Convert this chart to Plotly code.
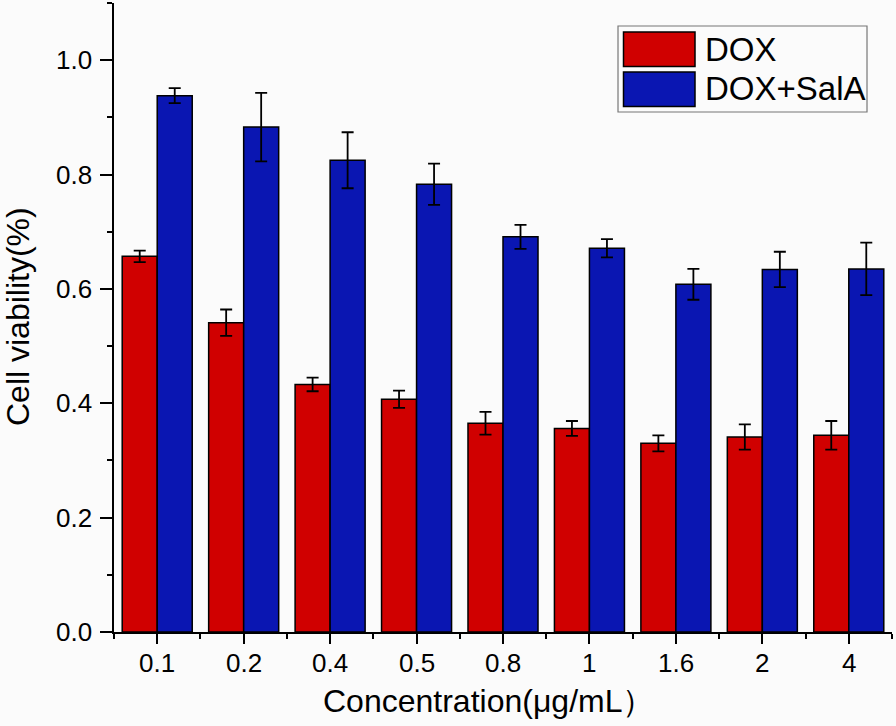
import plotly.graph_objects as go

concentrations = ["0.1", "0.2", "0.4", "0.5", "0.8", "1", "1.6", "2", "4"]
dox = [0.657, 0.541, 0.433, 0.407, 0.365, 0.356, 0.330, 0.341, 0.344]
dox_err = [0.010, 0.023, 0.012, 0.015, 0.020, 0.013, 0.014, 0.022, 0.025]
dox_sala = [0.938, 0.883, 0.825, 0.783, 0.691, 0.671, 0.608, 0.634, 0.635]
dox_sala_err = [0.013, 0.060, 0.049, 0.036, 0.021, 0.016, 0.027, 0.031, 0.046]
series_names = ["DOX", "DOX+SalA"]
y_ticks = [0.0, 0.2, 0.4, 0.6, 0.8, 1.0]
y_ticklabels = ["0.0", "0.2", "0.4", "0.6", "0.8", "1.0"]
x_title = "Concentration(μg/mL）"
y_title = "Cell viability(%)"

RED = "#D00000"
BLUE = "#0A16B2"
FONT = "Arial, Liberation Sans, sans-serif"

W, H = 896, 726
L, R, T, B = 114, 4, 3, 94
pw, ph = W - L - R, H - T - B

def px(x):
    return (x - L) / pw

def py(y):
    return (H - B - y) / ph

xpos = list(range(len(concentrations)))

fig = go.Figure()
for name, vals, errs, col in [(series_names[0], dox, dox_err, RED),
                              (series_names[1], dox_sala, dox_sala_err, BLUE)]:
    fig.add_trace(go.Bar(
        name=name, x=xpos, y=vals,
        marker=dict(color=col, line=dict(color="black", width=1.5)),
        error_y=dict(type="data", array=errs, visible=True,
                     color="black", thickness=1.8, width=6),
        showlegend=False,
    ))

# custom legend (large swatches like the original)
shapes = [
    dict(type="rect", xref="paper", yref="paper",
         x0=px(618), x1=px(867), y0=py(112), y1=py(26),
         line=dict(color="#777777", width=1.2), fillcolor="rgba(0,0,0,0)"),
    dict(type="rect", xref="paper", yref="paper",
         x0=px(623.5), x1=px(695), y0=py(66.5), y1=py(32),
         line=dict(color="black", width=1.5), fillcolor=RED),
    dict(type="rect", xref="paper", yref="paper",
         x0=px(623.5), x1=px(695), y0=py(106.5), y1=py(72),
         line=dict(color="black", width=1.5), fillcolor=BLUE),
]
annotations = [
    dict(text=series_names[0], xref="paper", yref="paper", x=px(703), y=py(49),
         xanchor="left", yanchor="middle", showarrow=False,
         font=dict(family=FONT, size=33, color="black")),
    dict(text=series_names[1], xref="paper", yref="paper", x=px(703), y=py(89),
         xanchor="left", yanchor="middle", showarrow=False,
         font=dict(family=FONT, size=33, color="black")),
    # axis titles
    dict(text=x_title, xref="paper", yref="paper", x=px(488), y=py(701),
         xanchor="center", yanchor="middle", showarrow=False,
         font=dict(family=FONT, size=32, color="black")),
    dict(text=y_title, xref="paper", yref="paper", x=px(18), y=py(317),
         xanchor="center", yanchor="middle", showarrow=False, textangle=-90,
         font=dict(family=FONT, size=32, color="black")),
]
# tick labels placed at the axis' own data positions
for xv, lab in zip(xpos, concentrations):
    annotations.append(dict(text=lab, xref="x", yref="paper", x=xv, y=py(663),
                            xanchor="center", yanchor="middle", showarrow=False,
                            font=dict(family=FONT, size=26, color="black")))
for yv, lab in zip(y_ticks, y_ticklabels):
    annotations.append(dict(text=lab, xref="paper", yref="y", x=px(94), y=yv,
                            xanchor="right", yanchor="middle", showarrow=False,
                            font=dict(family=FONT, size=26, color="black")))

fig.update_layout(
    width=W, height=H,
    margin=dict(l=L, r=R, t=T, b=B, autoexpand=False),
    paper_bgcolor="#FBFBFB", plot_bgcolor="#FBFBFB",
    barmode="group", bargap=0.19, bargroupgap=0.0,
    font=dict(family=FONT, color="black"),
    shapes=shapes, annotations=annotations,
    xaxis=dict(
        automargin=False,
        range=[-0.5, len(concentrations) - 0.5],
        tickmode="array", tickvals=xpos, ticktext=concentrations,
        showticklabels=False,
        ticks="outside", ticklen=10, tickwidth=1.8, tickcolor="black",
        minor=dict(tickmode="linear", tick0=-0.5, dtick=1, ticks="outside",
                   ticklen=5, tickwidth=1.8, tickcolor="black"),
        showline=True, linecolor="black", linewidth=2,
        showgrid=False, zeroline=False,
    ),
    yaxis=dict(
        automargin=False,
        range=[0, 1.1],
        tickmode="array", tickvals=y_ticks, ticktext=y_ticklabels,
        showticklabels=False,
        ticks="outside", ticklen=12, tickwidth=1.8, tickcolor="black",
        minor=dict(tickmode="array", tickvals=[0.1, 0.3, 0.5, 0.7, 0.9, 1.1], ticks="outside",
                   ticklen=5, tickwidth=1.8, tickcolor="black"),
        showline=True, linecolor="black", linewidth=2,
        showgrid=False, zeroline=False,
    ),
)

fig.write_html("out.html", config={"displayModeBar": False},
               post_script="document.body.style.margin='0';document.body.style.padding='0';")
